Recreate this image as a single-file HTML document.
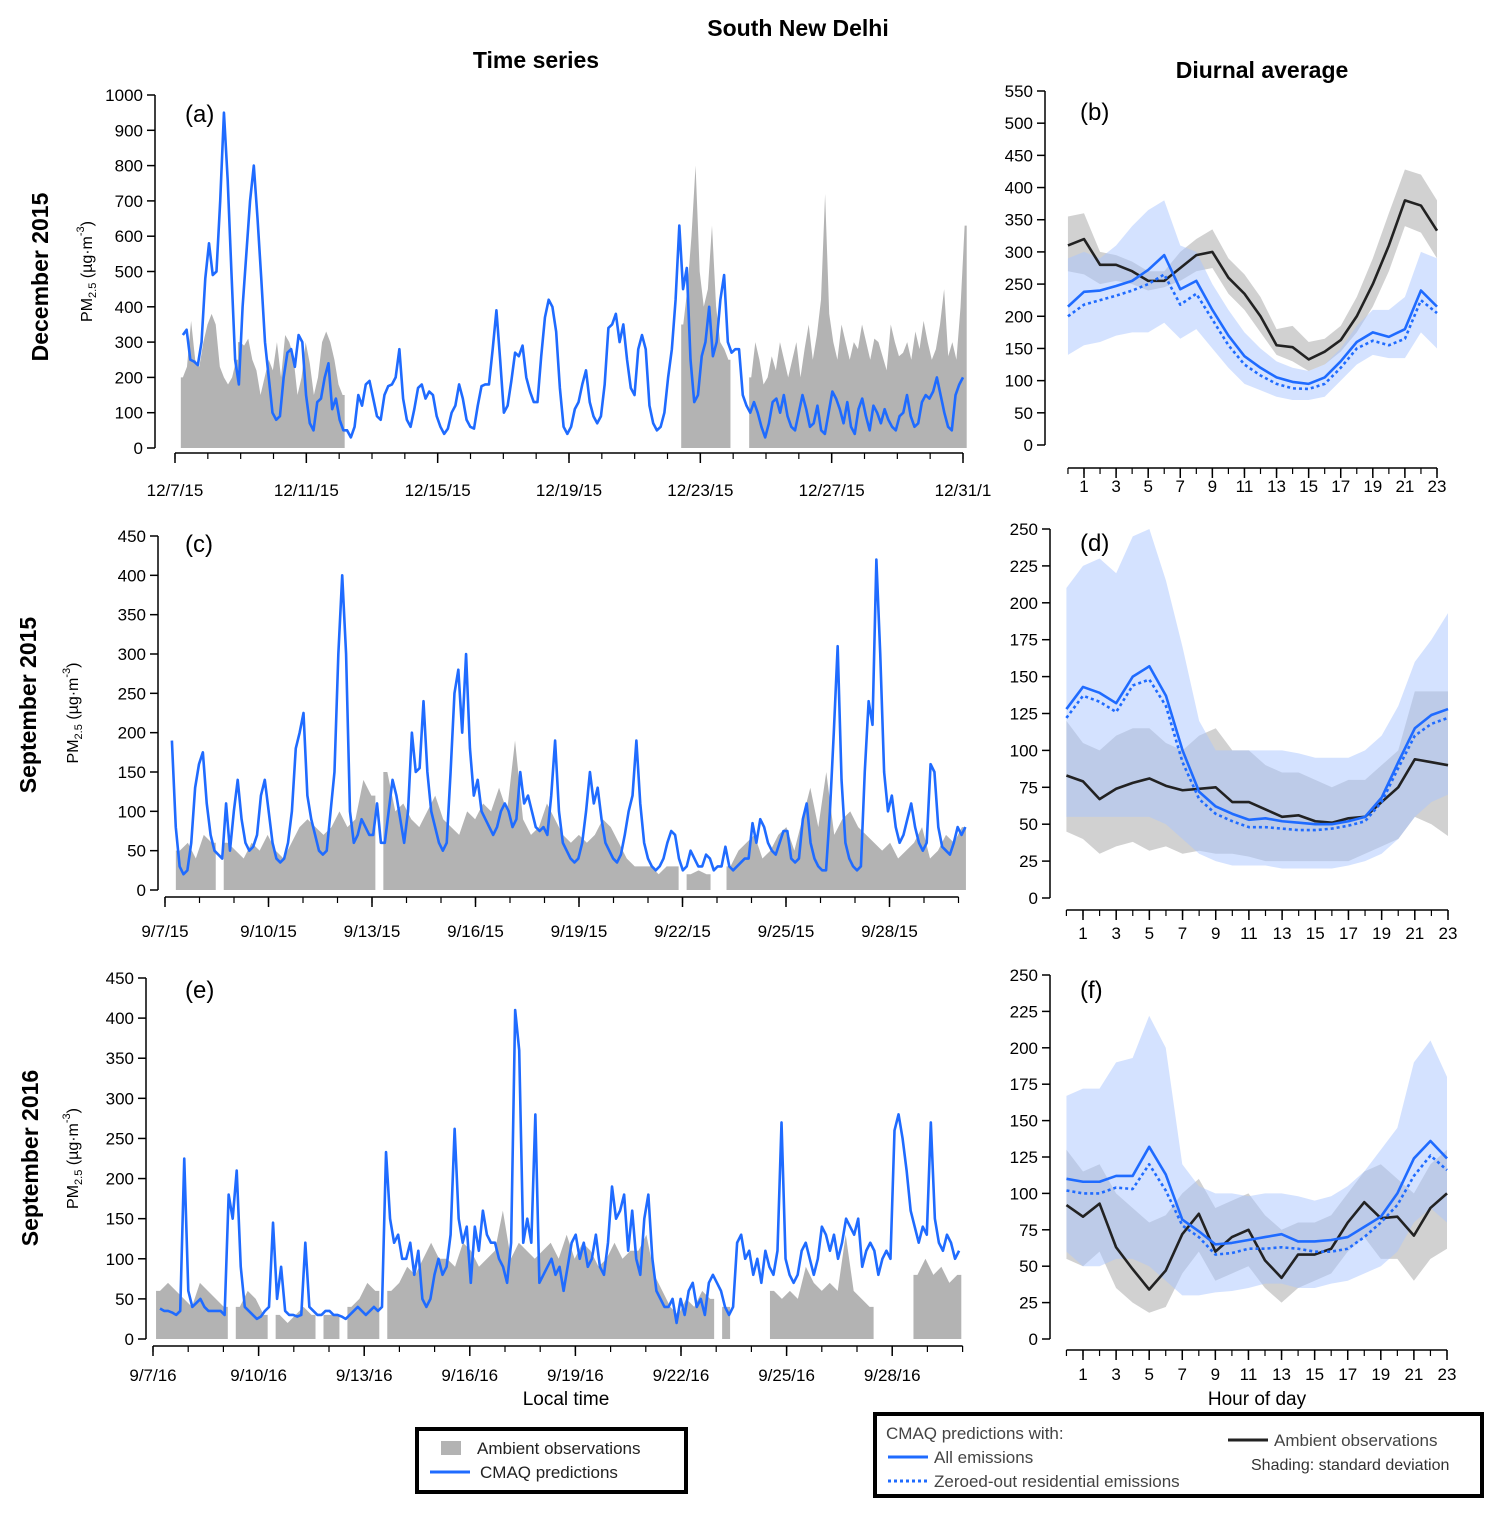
<!DOCTYPE html>
<html><head><meta charset="utf-8">
<style>
body{margin:0;background:#fff;}
svg{display:block;font-family:"Liberation Sans",Arial,sans-serif;}
</style></head>
<body>
<svg id="chart" width="1502" height="1516" viewBox="0 0 1502 1516" xmlns="http://www.w3.org/2000/svg">
<text x="798" y="36" text-anchor="middle" font-size="23" font-weight="bold">South New Delhi</text>
<text x="536" y="68" text-anchor="middle" font-size="23" font-weight="bold">Time series</text>
<text x="1262" y="78" text-anchor="middle" font-size="23" font-weight="bold">Diurnal average</text>
<text transform="translate(48,277) rotate(-90)" text-anchor="middle" font-size="23" font-weight="bold">December 2015</text>
<text transform="translate(36,705) rotate(-90)" text-anchor="middle" font-size="23" font-weight="bold">September 2015</text>
<text transform="translate(38,1158) rotate(-90)" text-anchor="middle" font-size="23" font-weight="bold">September 2016</text>
<text x="566" y="1405" text-anchor="middle" font-size="19">Local time</text>
<text x="1257" y="1405" text-anchor="middle" font-size="19">Hour of day</text>
<g id="plots"></g>
<g>
<rect x="417" y="1429" width="269" height="63" fill="#fff" stroke="#000" stroke-width="4"/>
<rect x="441" y="1441" width="20" height="14" fill="#b3b3b3"/>
<text x="477" y="1454" font-size="17" fill="#222">Ambient observations</text>
<line x1="430" y1="1472" x2="470" y2="1472" stroke="#1f6bff" stroke-width="3"/>
<text x="480" y="1478" font-size="17" fill="#222">CMAQ predictions</text>
</g>
<g>
<rect x="875" y="1414" width="607" height="82" fill="#fff" stroke="#000" stroke-width="4"/>
<text x="886" y="1439" font-size="17" fill="#444">CMAQ predictions with:</text>
<line x1="888" y1="1457" x2="928" y2="1457" stroke="#1f6bff" stroke-width="3"/>
<text x="934" y="1463" font-size="17" fill="#444">All emissions</text>
<line x1="888" y1="1481" x2="928" y2="1481" stroke="#1f6bff" stroke-width="3" stroke-dasharray="3,3"/>
<text x="934" y="1487" font-size="17" fill="#444">Zeroed-out residential emissions</text>
<line x1="1228" y1="1440" x2="1268" y2="1440" stroke="#222" stroke-width="3"/>
<text x="1274" y="1446" font-size="17" fill="#444">Ambient observations</text>
<text x="1251" y="1470" font-size="16" fill="#333">Shading: standard deviation</text>
</g>
</svg>
<script>
// ---------- Panel (a) December 2015 ----------
const aDates=["12/7/15","12/11/15","12/15/15","12/19/15","12/23/15","12/27/15","12/31/1"];
const aDateDays=[0,4,8,12,16,20,24];
const aYTicks=[0,100,200,300,400,500,600,700,800,900,1000];
const aModelSpan=[0.24,24.0];
const aModel=[320,335,250,245,235,300,480,580,490,500,700,950,760,500,250,180,400,550,700,800,650,480,300,200,100,80,90,200,270,280,230,320,300,150,70,50,130,140,200,240,110,140,80,50,50,30,60,150,120,180,190,140,90,80,150,175,180,200,280,140,80,60,110,170,180,140,160,150,90,60,40,55,100,120,180,140,80,60,55,120,175,180,180,280,390,250,100,120,190,270,260,290,200,160,130,130,260,370,420,400,330,170,60,40,60,110,130,180,220,130,90,70,90,180,340,350,380,300,350,250,170,150,280,320,280,120,70,50,60,100,200,280,420,630,450,510,250,130,150,260,300,400,260,300,420,490,300,270,280,280,150,120,100,130,100,60,30,70,130,140,100,150,90,60,50,100,150,110,60,70,120,50,40,100,160,140,110,70,130,60,40,110,140,90,50,120,100,70,110,80,60,50,90,100,150,90,60,70,130,150,140,160,200,150,100,60,50,150,180,200];
const aObsStarts=[0.24,1.98,15.48,17.55];
const aObs1=[200,230,360,250,230,300,350,380,350,230,200,180,200,250];
const aObs2=[300,290,310,250,220,150,200,250,220,300,200,320,300,260,150,200,300,240,150,200,300,330,300,250,180,150];
const aObs3=[350,450,600,800,500,400,450,630,400,300,280,250];
const aObs4=[200,300,250,180,200,260,220,300,250,200,250,300,200,280,350,250,320,420,720,380,300,250,350,300,250,300,280,350,300,250,310,300,260,220,350,300,260,270,300,250,330,280,360,300,250,280,350,450,260,300,250,400,630];
// ---------- Panel (b) ----------
const hours=[0,1,2,3,4,5,6,7,8,9,10,11,12,13,14,15,16,17,18,19,20,21,22,23];
const hourLabels=[1,3,5,7,9,11,13,15,17,19,21,23];
const bYTicks=[0,50,100,150,200,250,300,350,400,450,500,550];
const bObs=[310,320,280,280,270,255,255,275,295,300,260,235,200,155,152,133,145,163,200,250,310,380,372,333];
const bObsHi=[355,360,300,295,285,270,270,300,320,335,290,265,230,180,185,160,165,185,230,290,360,428,420,380];
const bObsLo=[270,265,250,255,250,240,245,255,270,275,235,210,175,140,130,115,125,145,175,215,270,340,330,290];
const bAll=[215,238,240,247,255,272,295,242,255,210,170,138,120,105,98,95,105,130,160,175,168,180,240,215];
const bZero=[200,218,225,232,240,250,265,218,235,195,155,125,108,95,88,87,95,120,150,162,155,165,225,205];
const bAllHi=[290,300,290,310,340,365,380,310,300,250,210,175,150,130,120,115,125,150,185,210,210,230,300,290];
const bAllLo=[140,155,160,170,175,175,190,165,180,150,120,95,85,75,70,70,75,100,125,140,135,135,175,150];
// ---------- Panel (c) September 2015 ----------
const cDates=["9/7/15","9/10/15","9/13/15","9/16/15","9/19/15","9/22/15","9/25/15","9/28/15"];
const cDateDays=[0,3,6,9,12,15,18,21];
const cYTicks=[0,50,100,150,200,250,300,350,400,450];
const cModelSpan=[0.2,23.2];
const cModel=[190,80,30,20,25,60,130,160,175,110,70,50,45,40,110,50,100,140,90,60,50,55,70,120,140,100,60,40,35,40,60,100,180,200,225,120,90,70,50,45,50,100,150,300,400,300,100,60,70,90,80,70,70,110,60,60,100,140,120,90,60,100,200,150,155,240,150,100,80,60,50,60,150,250,280,200,300,180,120,140,100,90,80,70,80,100,110,100,80,90,150,110,120,100,80,75,80,70,120,190,100,60,50,40,35,40,60,100,150,110,130,90,60,50,40,35,45,70,100,120,190,110,60,40,30,25,30,40,60,75,70,40,25,30,50,40,30,30,45,40,25,30,30,55,30,25,30,35,40,40,85,60,90,80,60,50,45,60,75,75,40,35,40,90,110,60,40,30,25,25,100,200,310,140,60,40,30,25,30,150,240,210,420,300,150,100,120,80,60,70,90,110,80,60,50,60,160,150,80,55,50,45,60,80,70,80];
const cObsSpan=[0.43,23.1];
const cObs=[50,60,40,70,60,null,60,50,40,60,50,70,50,40,60,80,90,80,70,80,100,80,90,140,120,null,150,100,110,90,80,100,120,90,80,70,100,90,110,100,130,100,190,90,70,80,110,90,70,60,70,60,70,90,80,60,40,30,30,30,20,30,30,null,20,25,20,null,null,30,50,60,70,40,50,70,80,50,90,130,80,150,70,90,100,80,70,60,50,60,40,50,60,80,40,50,70,60,80];
// ---------- Panel (d) ----------
const dYTicks=[0,25,50,75,100,125,150,175,200,225,250];
const dObs=[83,79,67,74,78,81,76,73,74,75,65,65,60,55,56,52,51,54,55,65,75,94,92,90];
const dObsHi=[120,105,100,110,115,115,105,100,110,115,100,100,90,85,85,80,75,80,80,90,100,140,140,140];
const dObsLo=[45,40,30,35,38,32,35,30,32,30,30,28,25,25,25,25,25,25,30,35,40,55,50,42];
const dAll=[128,143,139,132,150,157,137,100,72,62,57,53,54,52,51,50,50,52,55,68,92,115,124,128];
const dZero=[122,137,133,126,144,148,130,92,67,57,52,48,48,47,46,46,47,49,52,65,88,110,118,122];
const dAllHi=[210,225,230,220,245,250,215,170,120,100,100,100,100,100,98,95,95,95,100,110,130,160,175,193];
const dAllLo=[55,55,55,55,55,55,50,40,30,25,22,22,22,20,20,20,20,22,25,30,40,55,65,70];
// ---------- Panel (e) September 2016 ----------
const eDates=["9/7/16","9/10/16","9/13/16","9/16/16","9/19/16","9/22/16","9/25/16","9/28/16"];
const eDateDays=[0,3,6,9,12,15,18,21];
const eYTicks=[0,50,100,150,200,250,300,350,400,450];
const eModelSpan=[0.2,22.9];
const eModel=[38,35,35,33,30,35,225,60,40,45,50,40,35,35,35,35,30,180,150,210,90,40,35,30,25,28,35,40,145,50,90,35,30,30,28,30,120,40,35,30,30,35,35,30,30,28,25,30,35,40,35,30,35,40,35,40,233,150,120,130,100,100,120,80,110,50,40,50,80,100,80,90,130,262,150,120,140,70,140,110,160,130,120,120,100,90,70,120,410,360,120,150,120,280,70,80,90,100,80,90,60,90,120,130,100,120,90,100,130,90,80,120,190,150,160,180,110,160,100,80,150,180,100,60,50,40,40,50,20,50,30,60,70,40,50,30,70,80,70,60,40,30,40,120,130,100,110,80,100,70,110,90,80,110,270,100,80,70,80,110,120,100,80,100,140,130,110,130,100,120,150,140,130,150,90,110,120,110,80,100,110,100,260,280,250,210,160,140,120,140,130,270,150,120,110,130,120,100,110];
const eObsSpan=[0.2,22.85];
const eObs=[60,70,60,50,40,70,60,50,40,null,40,60,50,30,null,30,20,30,40,30,null,30,30,null,40,50,70,60,null,60,70,90,80,100,120,100,100,90,120,110,90,100,110,160,100,120,110,100,110,120,100,130,100,120,110,90,100,120,100,110,110,130,80,60,40,30,50,40,60,50,null,40,null,null,null,null,null,60,50,60,50,90,70,60,70,60,130,60,50,40,null,null,null,null,null,80,100,80,90,70,80];
// ---------- Panel (f) ----------
const fYTicks=[0,25,50,75,100,125,150,175,200,225,250];
const fObs=[92,84,93,63,48,34,47,72,86,60,70,75,54,42,58,58,62,80,94,83,84,71,90,100];
const fObsHi=[130,115,120,100,90,80,85,100,110,90,95,100,85,75,80,80,85,100,115,120,110,100,120,130];
const fObsLo=[55,50,60,35,25,18,22,45,60,40,45,50,35,25,35,40,45,60,70,55,55,40,55,62];
const fAll=[110,108,108,112,112,132,113,82,74,65,66,68,70,72,67,67,68,70,77,84,100,124,136,124];
const fZero=[102,100,100,104,103,120,102,78,70,58,59,62,62,63,62,60,60,62,70,80,92,112,126,116];
const fAllHi=[167,172,172,190,193,222,200,120,105,100,100,98,100,100,98,95,98,105,115,130,145,190,205,180];
const fAllLo=[60,50,50,55,55,50,40,30,30,32,33,35,38,38,35,35,38,40,45,50,60,80,90,80];

const NS="http://www.w3.org/2000/svg";
const root=document.getElementById('plots');
const BLUE="#1f6bff";
function mk(tag,parent){const e=document.createElementNS(NS,tag);parent.appendChild(e);return e;}
function lin(d0,d1,p0,p1){return v=>p0+(v-d0)*(p1-p0)/(d1-d0);}

function axes(g,P,yTicks,xTickVals,xLabels,xMinor){
  const yl=mk('line',g);
  
  
  yl.setAttribute('x1',P.ax);yl.setAttribute('x2',P.ax);yl.setAttribute('y1',P.sy(yTicks[yTicks.length-1]));yl.setAttribute('y2',P.sy(yTicks[0]));yl.setAttribute('stroke','#000');yl.setAttribute('stroke-width','1.5');
  yTicks.forEach(v=>{
    const t=mk('line',g);t.setAttribute('x1',P.ax-8);t.setAttribute('x2',P.ax);t.setAttribute('y1',P.sy(v));t.setAttribute('y2',P.sy(v));t.setAttribute('stroke','#000');t.setAttribute('stroke-width','1.5');
    const tx=mk('text',g);
    
    
    tx.setAttribute('x',P.ax-12);tx.setAttribute('y',P.sy(v)+6);tx.setAttribute('text-anchor','end');tx.setAttribute('font-size','17');tx.textContent=v;
  });
  const xl=mk('line',g);
  
  
  xl.setAttribute('x1',P.sx(P.x0));xl.setAttribute('x2',P.sx(P.x1));xl.setAttribute('y1',P.ay);xl.setAttribute('y2',P.ay);xl.setAttribute('stroke','#000');xl.setAttribute('stroke-width','1.5');
  xMinor.forEach(v=>{const t=mk('line',g);t.setAttribute('x1',P.sx(v));t.setAttribute('x2',P.sx(v));t.setAttribute('y1',P.ay);t.setAttribute('y2',P.ay+6);t.setAttribute('stroke','#000');t.setAttribute('stroke-width','1.2');});
  xTickVals.forEach((v,i)=>{
    const t=mk('line',g);t.setAttribute('x1',P.sx(v));t.setAttribute('x2',P.sx(v));t.setAttribute('y1',P.ay);t.setAttribute('y2',P.ay+10);t.setAttribute('stroke','#000');t.setAttribute('stroke-width','1.5');
    const tx=mk('text',g);
    
    
    tx.setAttribute('x',P.sx(v));tx.setAttribute('y',P.ay+P.lblOff);tx.setAttribute('text-anchor','middle');tx.setAttribute('font-size','17');tx.textContent=xLabels[i];
  });
}
function ylabel(g,x,y){
  const t=mk('text',g);
  
  
  t.setAttribute('transform','translate('+x+','+y+') rotate(-90)');t.setAttribute('text-anchor','middle');t.setAttribute('font-size','16');
  t.innerHTML='PM<tspan font-size="11" dy="4">2.5</tspan><tspan dy="-4"> (µg·m</tspan><tspan font-size="11" dy="-8">-3</tspan><tspan dy="8">)</tspan>';
}
function panelLetter(g,x,y,s){const t=mk('text',g);
  
  
  t.setAttribute('x',x);t.setAttribute('y',y);t.setAttribute('font-size','24');t.textContent=s;}
function series(P,span,vals){const n=vals.length;return vals.map((v,i)=>[span[0]+(span[1]-span[0])*i/(n-1),v]);}
function obsArea(g,P,pts,step){
  let run=[];const runs=[];
  pts.forEach(p=>{if(p[1]===null){if(run.length)runs.push(run);run=[];}else run.push(p);});
  if(run.length)runs.push(run);
  runs.forEach(r=>{
    let d='M'+P.sx(r[0][0]-step/2)+','+P.sy(0);
    d+=' L'+P.sx(r[0][0]-step/2)+','+P.sy(r[0][1]);
    r.forEach(p=>{d+=' L'+P.sx(p[0])+','+P.sy(p[1]);});
    d+=' L'+P.sx(r[r.length-1][0]+step/2)+','+P.sy(r[r.length-1][1])+' L'+P.sx(r[r.length-1][0]+step/2)+','+P.sy(0)+'Z';
    const a=mk('path',g);
    
    
    a.setAttribute('d',d);a.setAttribute('fill','#b3b3b3');
  });
}
function line(g,P,pts,color,w,dash,name){
  const l=mk('polyline',g);
  
  
  l.setAttribute('points',pts.map(p=>P.sx(p[0])+','+P.sy(p[1])).join(' '));
  l.setAttribute('fill','none');l.setAttribute('stroke',color);l.setAttribute('stroke-width',w);l.setAttribute('stroke-linejoin','round');
  if(dash)l.setAttribute('stroke-dasharray',dash);
}
function band(g,P,hi,lo,color,op,name){
  const pts=hours.map((h,i)=>P.sx(h)+','+P.sy(hi[i])).concat(hours.slice().reverse().map(h=>P.sx(h)+','+P.sy(lo[h])));
  const b=mk('polygon',g);
  
  
  b.setAttribute('points',pts.join(' '));b.setAttribute('fill',color);b.setAttribute('fill-opacity',op);
}
function range(a,b){const r=[];for(let i=a;i<=b;i++)r.push(i);return r;}

function timePanel(name,box,yTicks,dates,dateDays,nDays,obsParts,modelSpan,model,letter){
  const g=mk('g',root);
  
  
  const P={ax:box.ax,ay:box.ay,x0:0,x1:nDays,lblOff:box.lblOff,sx:lin(0,nDays,box.px0,box.px1),sy:lin(0,yTicks[yTicks.length-1],box.py0,box.py1)};
  obsParts.forEach(op=>obsArea(g,P,op.pts,op.step));
  line(g,P,series(P,modelSpan,model),BLUE,2.6,null,'cmaq-prediction-line');
  axes(g,P,yTicks,dateDays,dates,range(0,nDays));
  ylabel(g,box.ylx,(box.py0+box.py1)/2);
  panelLetter(g,box.letterX,box.letterY,letter);
}
function diurnalPanel(name,box,yTicks,obs,obsHi,obsLo,all,zero,allHi,allLo,letter){
  const g=mk('g',root);
  
  
  const P={ax:box.ax,ay:box.ay,x0:0,x1:23,lblOff:box.lblOff,sx:lin(1,23,box.px0,box.px1),sy:lin(0,yTicks[yTicks.length-1],box.py0,box.py1)};
  band(g,P,obsHi,obsLo,'#bdbdbd',0.7,'observation-sd-band');
  band(g,P,allHi,allLo,'#a9c6ff',0.5,'cmaq-sd-band');
  line(g,P,hours.map((h,i)=>[h,obs[i]]),'#222',2.6,null,'ambient-observation-line');
  line(g,P,hours.map((h,i)=>[h,all[i]]),BLUE,2.6,null,'all-emissions-line');
  line(g,P,hours.map((h,i)=>[h,zero[i]]),BLUE,2.6,'3,3','zeroed-residential-line');
  axes(g,P,yTicks,hourLabels,hourLabels,hours);
  panelLetter(g,box.letterX,box.letterY,letter);
}
function pts(start,step,vals){return vals.map((v,i)=>[start+step*i,v]);}

timePanel('panel-a-dec-2015',{ax:155,ay:453,px0:175,px1:963,py0:448,py1:95,lblOff:43,ylx:92,letterX:185,letterY:122},
  aYTicks,aDates,aDateDays,24,
  [{pts:pts(aObsStarts[0],0.125,aObs1),step:0.125},{pts:pts(aObsStarts[1],0.125,aObs2),step:0.125},{pts:pts(aObsStarts[2],0.125,aObs3),step:0.125},{pts:pts(aObsStarts[3],0.125,aObs4),step:0.125}],
  aModelSpan,aModel,'(a)');
diurnalPanel('panel-b-dec-2015-diurnal',{ax:1045,ay:468,px0:1084,px1:1437,py0:445,py1:91,lblOff:24,letterX:1080,letterY:120},
  bYTicks,bObs,bObsHi,bObsLo,bAll,bZero,bAllHi,bAllLo,'(b)');
const cStep=(cObsSpan[1]-cObsSpan[0])/(cObs.length-1);
timePanel('panel-c-sep-2015',{ax:158,ay:897,px0:165,px1:165+34.5*23,py0:890,py1:536,lblOff:40,ylx:78,letterX:185,letterY:552},
  cYTicks,cDates,cDateDays,23,[{pts:pts(cObsSpan[0],cStep,cObs),step:cStep}],cModelSpan,cModel,'(c)');
diurnalPanel('panel-d-sep-2015-diurnal',{ax:1050,ay:910,px0:1083,px1:1448,py0:898,py1:529,lblOff:29,letterX:1080,letterY:551},
  dYTicks,dObs,dObsHi,dObsLo,dAll,dZero,dAllHi,dAllLo,'(d)');
const eStep=(eObsSpan[1]-eObsSpan[0])/(eObs.length-1);
timePanel('panel-e-sep-2016',{ax:146,ay:1346,px0:153,px1:153+35.2*23,py0:1339,py1:978,lblOff:35,ylx:78,letterX:185,letterY:998},
  eYTicks,eDates,eDateDays,23,[{pts:pts(eObsSpan[0],eStep,eObs),step:eStep}],eModelSpan,eModel,'(e)');
diurnalPanel('panel-f-sep-2016-diurnal',{ax:1050,ay:1350,px0:1083,px1:1447,py0:1339,py1:975,lblOff:30,letterX:1080,letterY:998},
  fYTicks,fObs,fObsHi,fObsLo,fAll,fZero,fAllHi,fAllLo,'(f)');
</script>
</body></html>
